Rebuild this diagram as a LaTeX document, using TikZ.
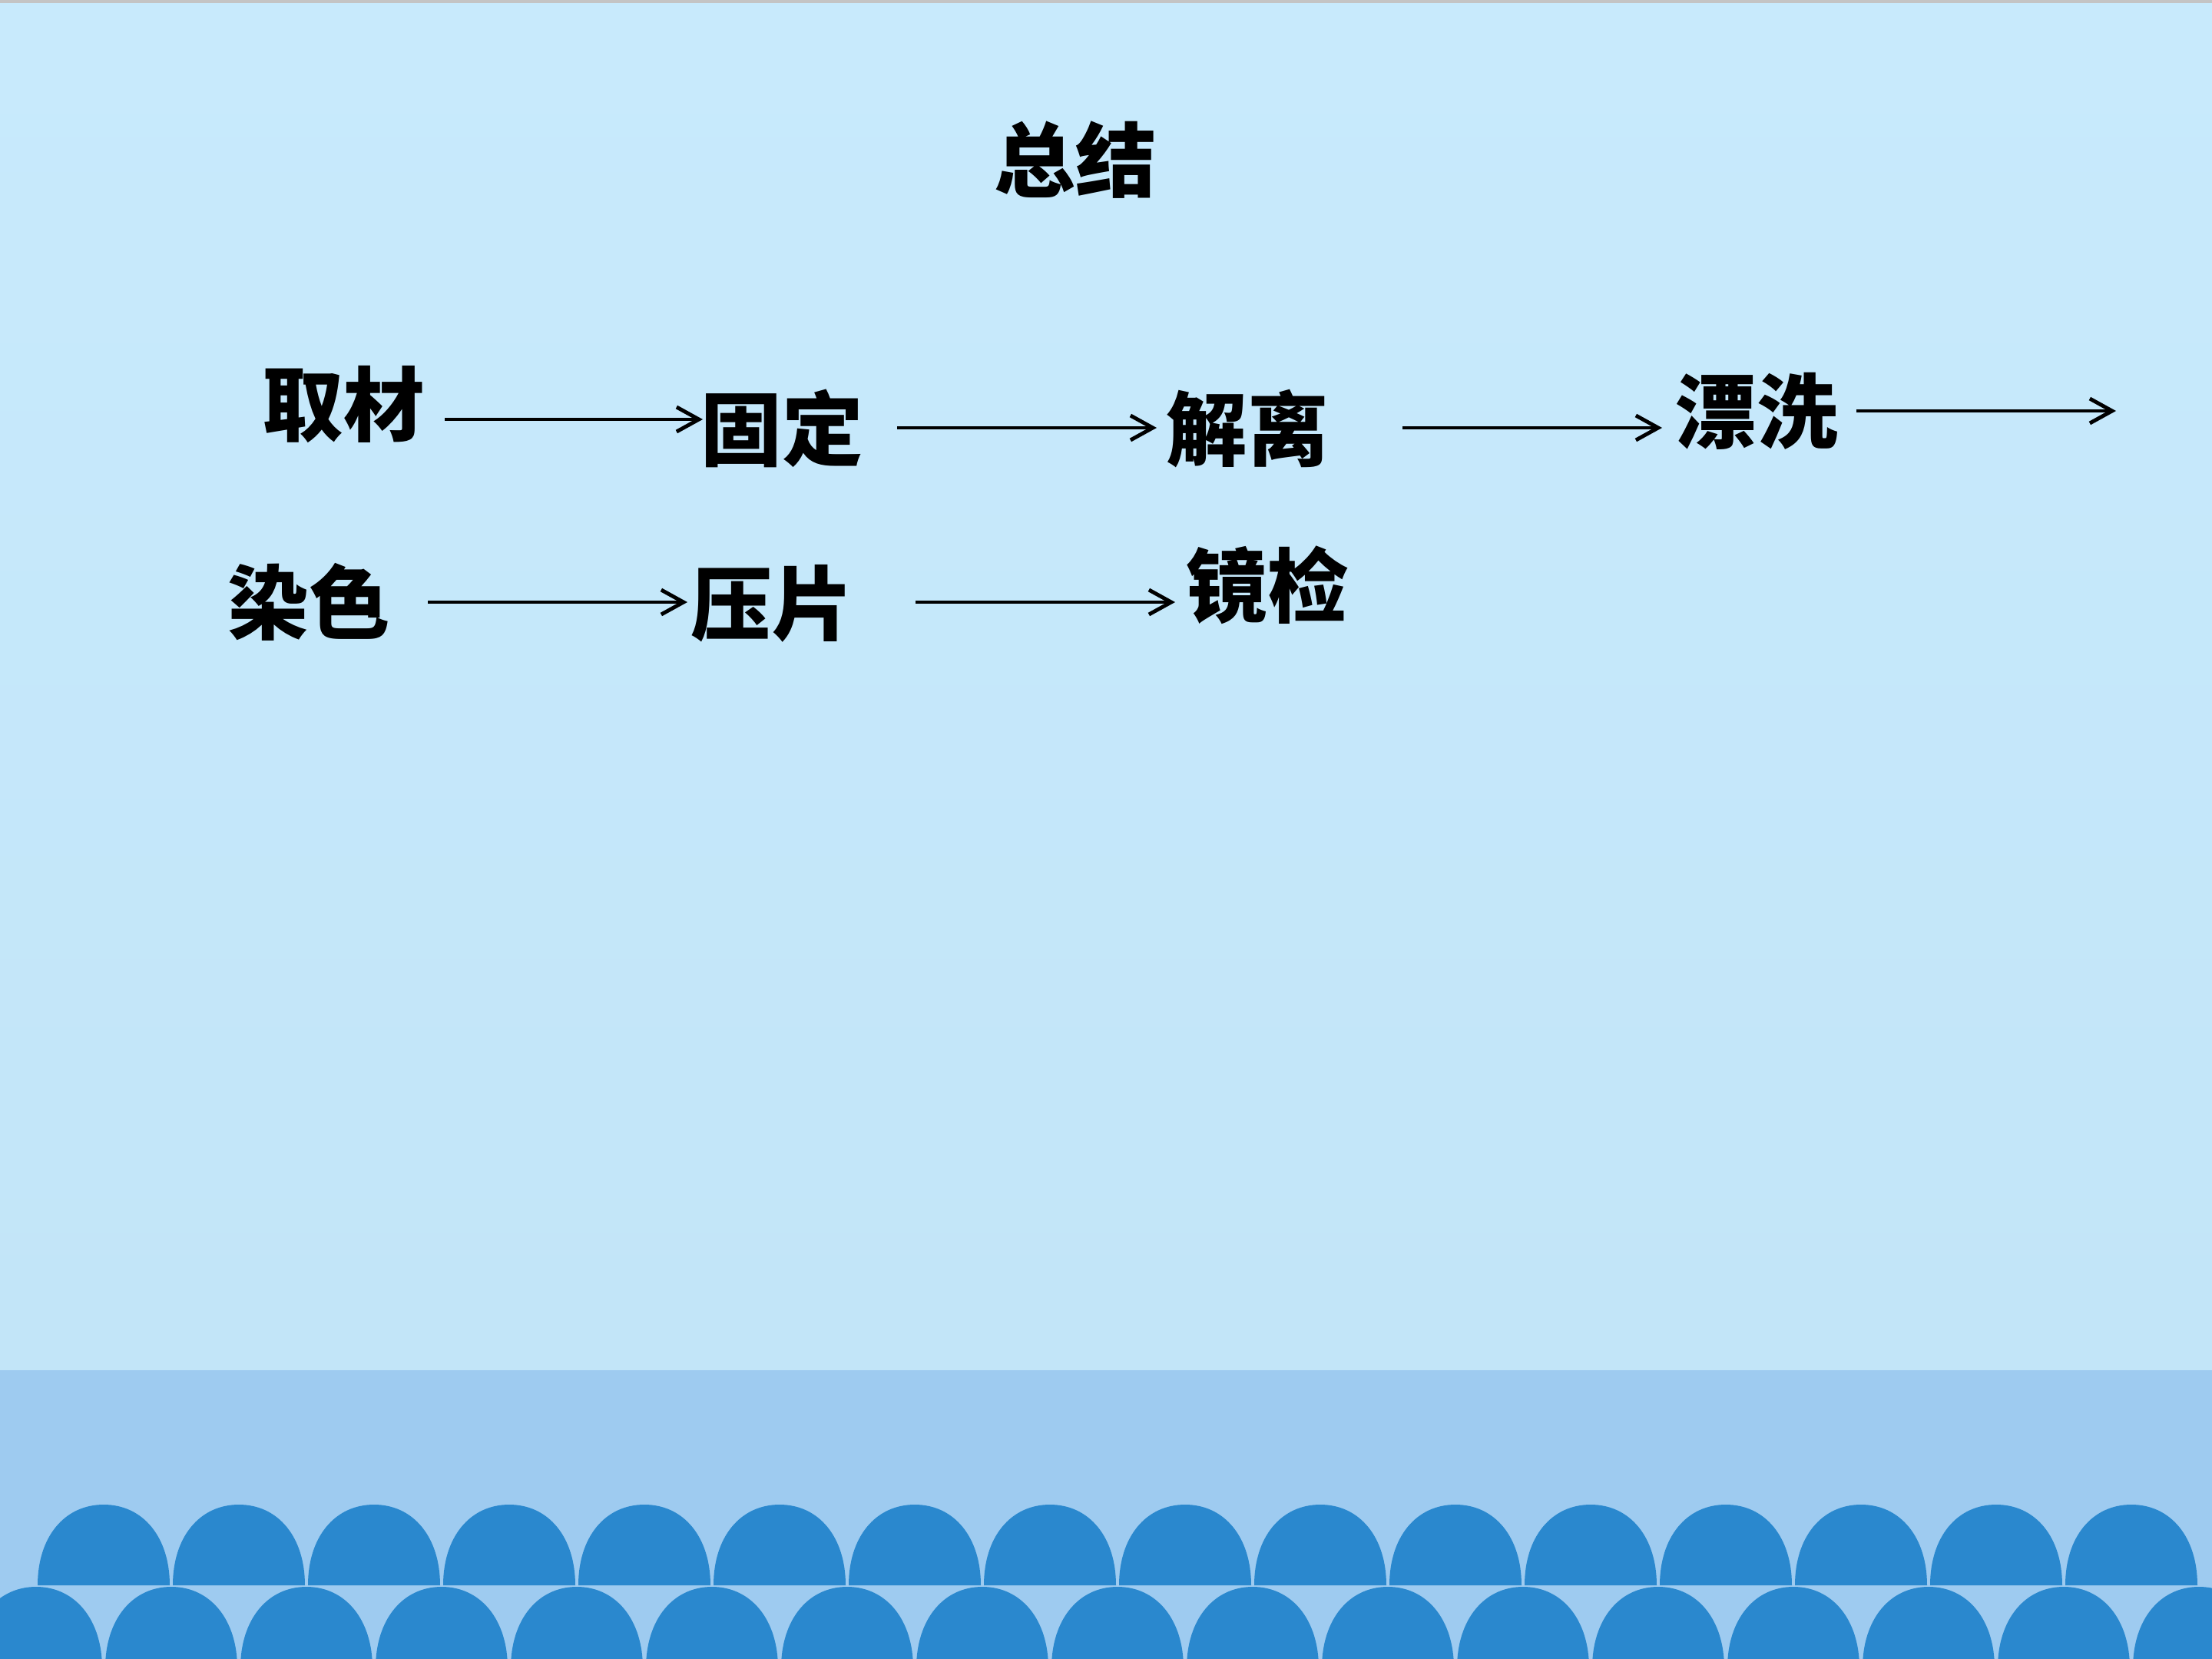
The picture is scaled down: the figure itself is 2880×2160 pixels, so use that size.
\documentclass[tikz,border=0pt]{standalone}
\usepackage{fontspec}
\newfontfamily\cjk{Noto Sans CJK SC}
\usetikzlibrary{arrows.meta}
\definecolor{skytop}{HTML}{C8EAFC}
\definecolor{skybot}{HTML}{C2E5F8}
\definecolor{band}{HTML}{9ECBF0}
\definecolor{wave}{HTML}{2A88CE}
\definecolor{rim}{HTML}{C4C4C4}
\tikzset{
  lbl/.style={font=\cjk\bfseries\fontsize{30pt}{36pt}\selectfont, inner sep=0pt, text=black},
  arr/.style={-{Straight Barb[length=0.29cm,width=0.32cm]}, line width=1.4pt, draw=black},
  dome/.style={fill=wave},
}
\begin{document}
\begin{tikzpicture}[x=0.01cm,y=-0.01cm]
\useasboundingbox (0,0) rectangle (2880,2160);
% background
\shade[top color=skytop,bottom color=skybot] (0,0) rectangle (2880,1784);
\fill[rim] (0,0) rectangle (2880,4);
\fill[band] (0,1784) rectangle (2880,2160);
% waves: lower row
\foreach \k in {0,...,16}{
  \pgfmathsetmacro{\c}{47+176*\k}
  \fill[dome] ({\c-86},2172) .. controls ({\c-86},2109) and ({\c-51},2066) .. (\c,2066)
     .. controls ({\c+51},2066) and ({\c+86},2109) .. ({\c+86},2172) -- cycle;
}
% waves: upper row
\foreach \k in {0,...,15}{
  \pgfmathsetmacro{\c}{135+176*\k}
  \fill[dome] ({\c-86},2064) .. controls ({\c-86},2001) and ({\c-51},1959) .. (\c,1959)
     .. controls ({\c+51},1959) and ({\c+86},2001) .. ({\c+86},2064) -- cycle;
}
% title
\node[lbl] (zj) at (1400,208) {总结};
% row 1
\node[lbl] (qc) at (447,527) {取材};
\node[lbl] (gd) at (1018,558) {固定};
\node[lbl] (jl) at (1624,558) {解离};
\node[lbl] (px) at (2287,535) {漂洗};
\coordinate (endp) at (2755,535);
% row 2
\node[lbl] (rs) at (402,784) {染色};
\node[lbl] (yp) at (1005,786) {压片};
\node[lbl] (jj) at (1650,762) {镜检};
% connectors
\draw[arr] ([shift={(132,19)}]qc.center) -- ([shift={(-103,-12)}]gd.center);
\draw[arr] ([shift={(150,-1)}]gd.center) -- ([shift={(-118,-1)}]jl.center);
\draw[arr] ([shift={(202,-1)}]jl.center) -- ([shift={(-123,22)}]px.center);
\draw[arr] ([shift={(130,0)}]px.center) -- (endp);
\draw[arr] ([shift={(155,0)}]rs.center) -- ([shift={(-110,-2)}]yp.center);
\draw[arr] ([shift={(187,-2)}]yp.center) -- ([shift={(-120,22)}]jj.center);
\end{tikzpicture}
\end{document}
